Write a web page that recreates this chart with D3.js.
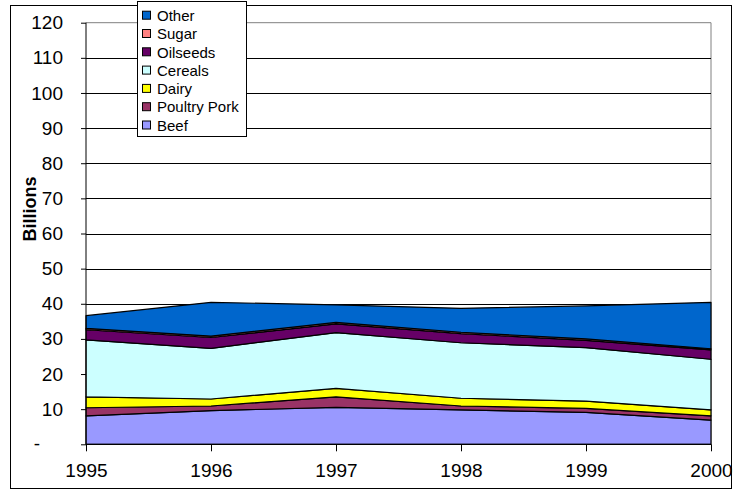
<!DOCTYPE html>
<html>
<head>
<meta charset="utf-8">
<script src="https://cdn.jsdelivr.net/npm/d3@7/dist/d3.min.js"></script>
<style>
  html, body { margin: 0; padding: 0; background: #fff; }
  svg { display: block; font-family: Arial, "Liberation Sans", sans-serif; }
</style>
</head>
<body>
<svg id="chart" width="734" height="490"></svg>
<script>
// Agricultural support by commodity, billions, 1995-2000
const years = [1995, 1996, 1997, 1998, 1999, 2000];
const beef        = [8.1, 9.6, 10.5, 9.8, 9.1, 6.9];
const poultryPork = [2.3, 1.3, 3.0, 1.1, 1.1, 1.2];
const dairy       = [3.1, 2.0, 2.4, 2.2, 2.1, 1.7];
const cereals     = [16.2, 14.4, 15.9, 15.8, 15.2, 14.4];
const oilseeds    = [2.9, 3.1, 2.5, 2.6, 2.1, 2.7];
const sugar       = [0.4, 0.4, 0.4, 0.4, 0.4, 0.3];
const other       = [3.6, 9.6, 5.0, 6.8, 9.4, 13.2];

const seriesNames  = ["Beef", "Poultry Pork", "Dairy", "Cereals", "Oilseeds", "Sugar", "Other"];
const seriesValues = [beef, poultryPork, dairy, cereals, oilseeds, sugar, other];
const seriesColors = ["#9999FF", "#993366", "#FFFF00", "#CCFFFF", "#660066", "#FF8080", "#0066CC"];
const yTicks = [0, 10, 20, 30, 40, 50, 60, 70, 80, 90, 100, 110, 120];

const rows = years.map((yr, i) => {
  const r = { year: yr };
  seriesNames.forEach((n, k) => { r[n] = seriesValues[k][i]; });
  return r;
});

const svg = d3.select("#chart");
const plotLeft = 86, plotRight = 711, plotTop = 22.7, plotBottom = 444.3;

const x = d3.scalePoint().domain(years).range([plotLeft, plotRight]);
const y = d3.scaleLinear().domain([0, 120]).range([plotBottom, plotTop]);

// outer chart frame
svg.append("rect")
  .attr("x", 10.5).attr("y", 5.5).attr("width", 721).attr("height", 483)
  .attr("fill", "#fff").attr("stroke", "#000").attr("stroke-width", 1);

// plot area border (top/right)
svg.append("path")
  .attr("d", `M${plotLeft},${plotTop}H${plotRight}V${plotBottom}`)
  .attr("fill", "none").attr("stroke", "#808080").attr("stroke-width", 1);

// horizontal gridlines
svg.append("g")
  .selectAll("line")
  .data(yTicks.filter(t => t > 0 && t < 120))
  .join("line")
  .attr("x1", plotLeft).attr("x2", plotRight)
  .attr("y1", d => Math.round(y(d)) + 0.5).attr("y2", d => Math.round(y(d)) + 0.5)
  .attr("stroke", "#000").attr("stroke-width", 1);

// stacked areas
const stack = d3.stack().keys(seriesNames);
const layers = stack(rows);
const area = d3.area()
  .x(d => x(d.data.year))
  .y0(d => y(d[0]))
  .y1(d => y(d[1]));

svg.append("g")
  .selectAll("path")
  .data(layers)
  .join("path")
  .attr("d", area)
  .attr("fill", (d, i) => seriesColors[i])
  .attr("stroke", "#000")
  .attr("stroke-width", 1.2)
  .attr("stroke-linejoin", "round");

// y axis
const yAxis = d3.axisLeft(y)
  .tickValues(yTicks)
  .tickSize(5)
  .tickPadding(18)
  .tickFormat(d => d === 0 ? "" : d);
const gy = svg.append("g").attr("transform", `translate(${plotLeft},0)`).call(yAxis);
gy.select(".domain").attr("stroke", "#000").attr("d", `M0,${plotBottom}V${plotTop}`);
gy.selectAll(".tick line").attr("stroke", "#000");
gy.selectAll(".tick text").attr("font-size", 19).attr("fill", "#000")
  .attr("font-family", "Arial, 'Liberation Sans', sans-serif");
// zero is written as a dash
svg.append("text")
  .attr("x", 40).attr("y", y(0)).attr("dy", "0.32em")
  .attr("text-anchor", "end").attr("font-size", 19).text("-");

// x axis
const xAxis = d3.axisBottom(x).tickSize(7).tickPadding(12);
const gx = svg.append("g").attr("transform", `translate(0,${plotBottom})`).call(xAxis);
gx.select(".domain").attr("stroke", "#000").attr("d", `M${plotLeft},0H${plotRight}`);
gx.selectAll(".tick line").attr("stroke", "#000");
gx.selectAll(".tick text").attr("font-size", 19).attr("fill", "#000")
  .attr("font-family", "Arial, 'Liberation Sans', sans-serif");

// axis title
svg.append("text")
  .attr("transform", "translate(36,209) rotate(-90)")
  .attr("text-anchor", "middle")
  .attr("font-size", 18).attr("font-weight", "bold")
  .text("Billions");

// legend, top entry is the top layer
const legend = svg.append("g");
legend.append("rect")
  .attr("x", 137.5).attr("y", 1.5).attr("width", 109).attr("height", 135)
  .attr("fill", "#fff").attr("stroke", "#000");
const legendItems = seriesNames.map((n, i) => ({ name: n, color: seriesColors[i] })).reverse();
const li = legend.selectAll("g.item").data(legendItems).join("g")
  .attr("class", "item")
  .attr("transform", (d, i) => `translate(0,${15.7 + i * 18.3})`);
li.append("rect")
  .attr("x", 142.5).attr("y", -4.5).attr("width", 8).attr("height", 8)
  .attr("fill", d => d.color).attr("stroke", "#000");
li.append("text")
  .attr("x", 157).attr("y", 0).attr("dy", "0.35em")
  .attr("font-size", 15).text(d => d.name);
</script>
</body>
</html>
